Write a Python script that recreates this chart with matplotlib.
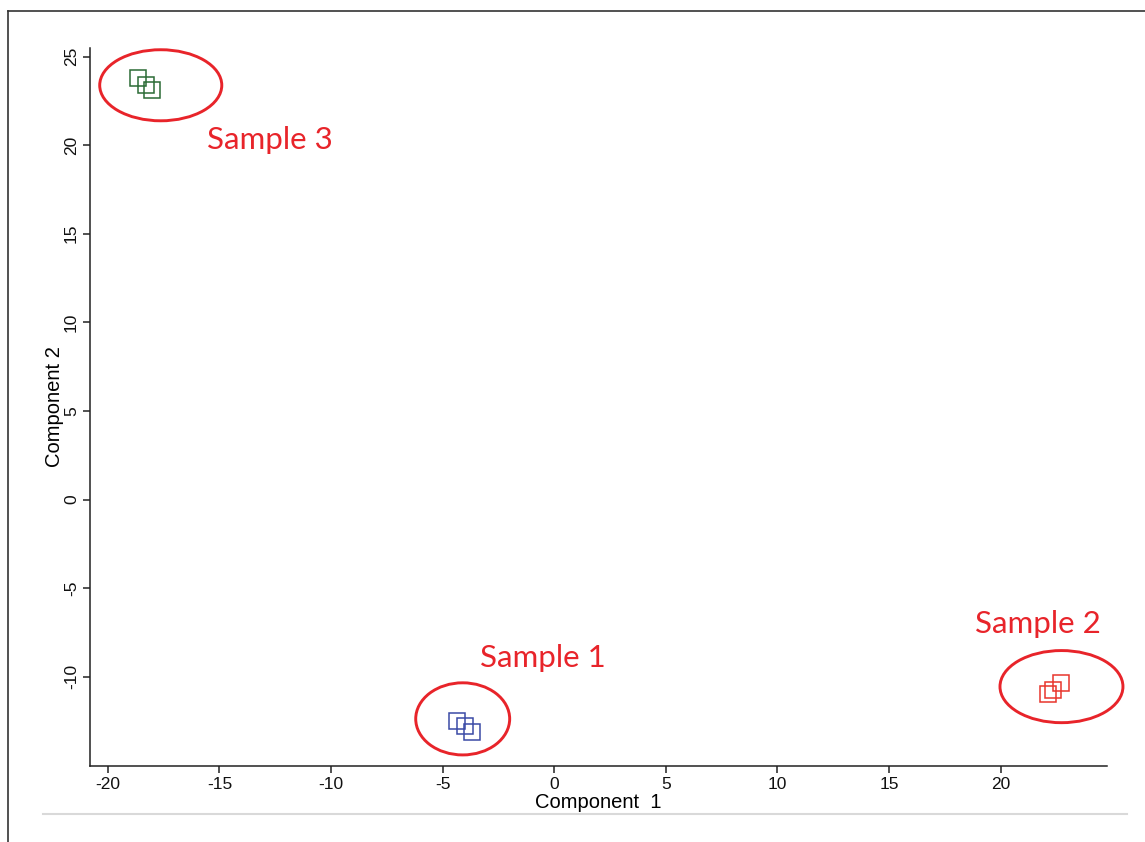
import matplotlib
matplotlib.use("Agg")
import matplotlib.pyplot as plt
from matplotlib.patches import Ellipse
from matplotlib.lines import Line2D

# Data
sample1_x = [-4.35, -4.00, -3.70]
sample1_y = [-12.48, -12.78, -13.14]
sample2_x = [22.13, 22.35, 22.71]
sample2_y = [-10.98, -10.75, -10.37]
sample3_x = [-18.67, -18.31, -18.02]
sample3_y = [23.79, 23.41, 23.13]
labels = ["Sample 1", "Sample 2", "Sample 3"]
xticks = [-20, -15, -10, -5, 0, 5, 10, 15, 20]
yticks = [-10, -5, 0, 5, 10, 15, 20, 25]

fig = plt.figure(figsize=(11.45, 8.42), dpi=100)
ax = fig.add_axes([90/1145, 1-766/842, (1107-90)/1145, (766-47.7)/842])
ax.set_xlim(-20.8, 24.77)
ax.set_ylim(-15.04, 25.5)

ms = 11.7
ax.plot(sample1_x, sample1_y, ls="none", marker="s", ms=ms, mfc="none", mec="#3a4aa6", mew=1.1)
ax.plot(sample2_x, sample2_y, ls="none", marker="s", ms=ms, mfc="none", mec="#e8352c", mew=1.1)
ax.plot(sample3_x, sample3_y, ls="none", marker="s", ms=ms, mfc="none", mec="#2b6b35", mew=1.1)

red = "#e8242a"
ellipses = [((-4.10, -12.38), 4.21, 4.07), ((22.73, -10.56), 5.51, 4.07), ((-17.63, 23.38), 5.47, 4.01)]
for (c, w, h) in ellipses:
    ax.add_patch(Ellipse(c, w, h, fill=False, ec=red, lw=2.1, clip_on=False))

label_pos = [(-0.52, -8.95), (21.67, -7.03), (-12.74, 20.3)]
for lab, (lx, ly) in zip(labels, label_pos):
    ax.text(lx, ly, lab, color=red, fontsize=22.5, family="Lato", ha="center", va="center")

for s in ["top", "right"]:
    ax.spines[s].set_visible(False)
for s in ["left", "bottom"]:
    ax.spines[s].set_linewidth(1.1)
    ax.spines[s].set_color("#222222")

ax.set_xticks(xticks)
ax.set_yticks(yticks)
ax.set_xticklabels([str(t) for t in xticks], family="Liberation Sans", fontsize=12.5)
ax.set_yticklabels([str(t) for t in yticks], family="Liberation Sans", fontsize=12.5, rotation=90, va="center")
ax.tick_params(direction="out", length=5, width=1.1, color="#222222", labelcolor="#111111", pad=3)

ax.set_xlabel("Component  1", family="Liberation Sans", fontsize=14.5, labelpad=1)
ax.set_ylabel("Component 2", family="Liberation Sans", fontsize=14.5, labelpad=0)

# outer frame and bottom separator line
fig.add_artist(Line2D([8/1145, 8/1145], [0, 1-11/842], transform=fig.transFigure, color="#333333", lw=1.2))
fig.add_artist(Line2D([8/1145, 1], [1-11/842, 1-11/842], transform=fig.transFigure, color="#333333", lw=1.2))
fig.add_artist(Line2D([43/1145, 1127/1145], [1-814/842, 1-814/842], transform=fig.transFigure, color="#d9d9d9", lw=1.5))

fig.savefig("out.png", dpi=100)
